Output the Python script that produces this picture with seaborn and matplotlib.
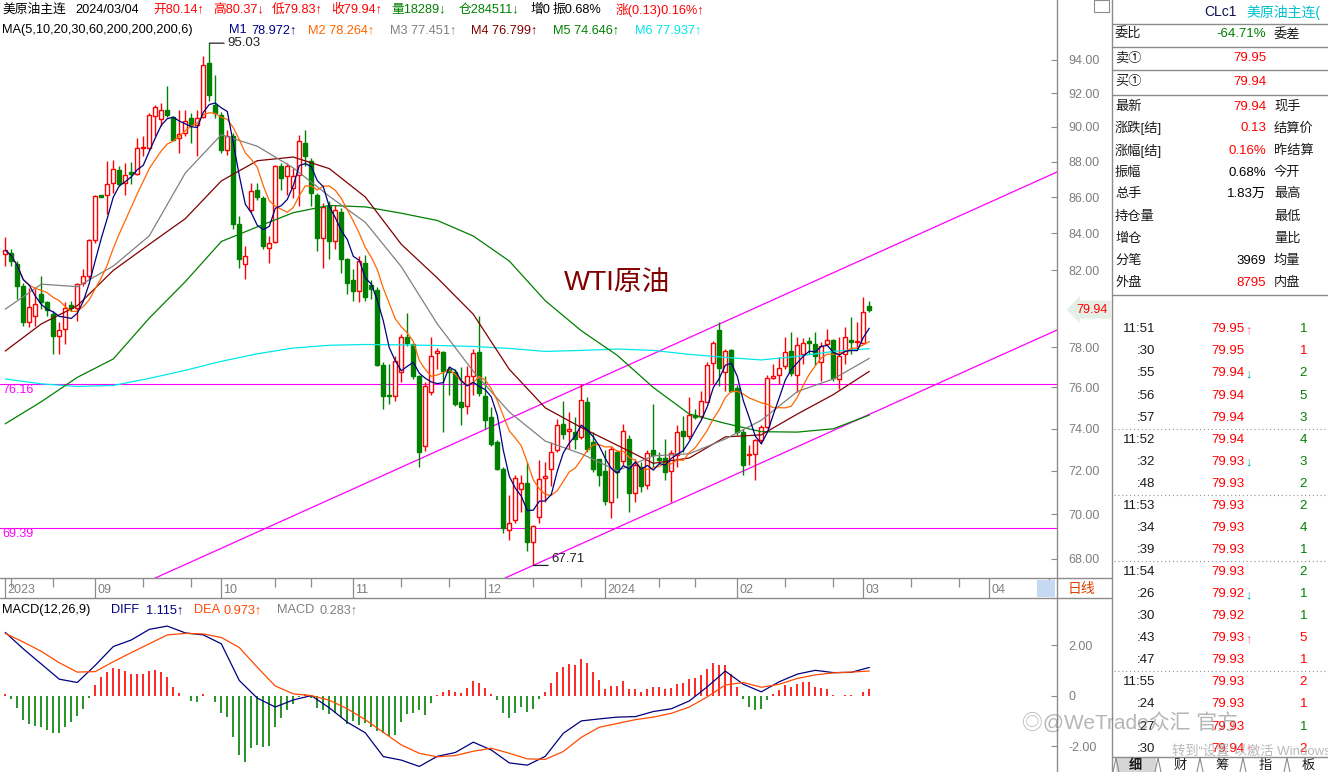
import numpy as np
import pandas as pd
import matplotlib
matplotlib.use("Agg")
import matplotlib.pyplot as plt
import seaborn as sns
from matplotlib.lines import Line2D
from matplotlib.patches import Rectangle
from matplotlib.ticker import NullLocator

# ---------------- data ----------------
opens = [82.90, 82.94, 82.33, 81.18, 79.28, 79.59, 80.74, 80.31, 79.70, 78.60,
         78.94, 80.17, 80.00, 81.35, 81.70, 83.62, 86.10, 86.12, 86.76, 87.54,
         86.79, 87.43, 87.32, 88.76, 88.78, 90.65, 90.46, 91.00, 90.61, 89.36,
         89.65, 90.52, 90.13, 90.61, 93.80, 91.30, 90.71, 88.69, 89.46, 84.49,
         82.32, 85.26, 86.42, 85.95, 83.22, 83.55, 87.73, 87.17, 86.52, 87.26,
         89.07, 88.01, 86.14, 83.76, 85.51, 83.58, 85.18, 82.59, 81.48, 80.92,
         82.40, 81.20, 80.97, 77.12, 75.65, 75.60, 76.75, 78.51, 78.17, 76.59,
         73.16, 75.80, 77.70, 77.76, 76.92, 76.78, 75.31, 75.10, 76.59, 77.76,
         75.59, 74.55, 73.35, 72.09, 69.28, 69.74, 71.17, 71.45, 68.76, 69.88,
         71.67, 72.09, 72.96, 74.23, 73.86, 73.83, 73.59, 75.31, 73.35, 72.57,
         72.00, 70.54, 72.88, 72.47, 73.51, 70.98, 72.18, 71.36, 73.00, 72.62,
         72.60, 72.00, 72.76, 73.86, 73.62, 74.67, 74.60, 75.31, 77.20, 78.89,
         76.75, 77.88, 75.95, 73.83, 72.76, 72.80, 73.43, 74.07, 76.45, 76.62,
         77.08, 77.81, 76.62, 77.67, 78.34, 78.20, 77.25, 78.20, 78.37, 76.42,
         77.67, 78.37, 78.27, 78.25, 80.14]
highs = [83.82, 83.13, 82.50, 81.35, 81.09, 81.00, 81.70, 80.39, 79.87, 79.28,
         80.31, 80.39, 81.35, 82.06, 83.67, 86.14, 86.12, 88.01, 88.11, 87.73,
         87.92, 87.96, 89.36, 89.46, 90.84, 91.30, 91.40, 92.43, 90.65, 91.00,
         91.00, 90.82, 91.00, 94.24, 95.03, 93.09, 90.90, 89.85, 89.65, 84.94,
         83.30, 86.79, 86.79, 86.04, 83.86, 87.83, 87.92, 87.92, 87.64, 89.55,
         89.85, 88.21, 86.23, 85.67, 85.75, 85.56, 85.37, 82.68, 82.06, 82.77,
         82.80, 81.50, 81.10, 77.25, 77.17, 77.59, 78.68, 79.77, 78.17, 76.62,
         76.26, 78.51, 77.95, 77.84, 77.00, 76.92, 77.00, 77.05, 77.92, 79.59,
         76.57, 75.03, 73.43, 72.17, 70.87, 71.79, 71.79, 72.41, 69.50, 72.49,
         72.41, 73.35, 74.47, 75.35, 74.80, 74.55, 76.16, 75.52, 73.83, 72.57,
         73.00, 73.19, 72.96, 74.23, 73.67, 72.57, 72.41, 72.96, 75.20, 72.90,
         73.51, 72.96, 74.15, 74.63, 75.52, 74.95, 75.85, 77.25, 78.34, 79.28,
         77.92, 77.92, 76.14, 74.00, 73.20, 73.51, 74.15, 76.62, 77.17, 77.50,
         78.51, 78.77, 78.51, 78.46, 78.51, 78.80, 78.29, 78.94, 78.43, 78.51,
         79.02, 79.54, 79.28, 80.62, 80.37]
lows = [82.23, 82.23, 80.48, 79.08, 79.03, 79.08, 79.96, 79.62, 77.67, 77.67,
        78.18, 79.88, 79.36, 81.18, 81.53, 83.49, 85.99, 85.08, 86.23, 86.60,
        86.14, 86.75, 87.26, 88.30, 88.69, 89.46, 90.07, 90.61, 89.22, 88.50,
        89.46, 89.07, 88.30, 90.52, 91.50, 90.52, 88.50, 88.40, 84.22, 82.14,
        81.53, 85.17, 85.86, 83.13, 82.37, 83.49, 86.42, 86.14, 85.95, 85.49,
        87.73, 85.49, 83.04, 82.14, 82.59, 83.13, 81.88, 80.74, 80.39, 80.31,
        80.40, 80.50, 77.09, 74.95, 75.19, 75.35, 76.26, 78.08, 76.42, 72.19,
        72.91, 75.63, 76.92, 73.82, 75.63, 75.10, 74.15, 74.68, 75.63, 75.59,
        73.99, 73.19, 72.02, 69.14, 68.83, 69.59, 70.11, 68.33, 67.71, 69.59,
        70.57, 71.31, 72.88, 73.51, 73.02, 73.02, 73.51, 72.88, 71.93, 71.31,
        70.40, 69.81, 70.72, 72.28, 70.11, 70.54, 71.03, 71.17, 72.18, 72.30,
        71.56, 70.57, 72.18, 72.88, 73.51, 74.47, 74.47, 75.27, 76.16, 76.08,
        75.85, 75.77, 73.67, 71.79, 72.26, 71.56, 73.27, 74.02, 76.42, 76.16,
        76.92, 76.59, 75.80, 77.17, 77.67, 77.12, 76.34, 78.17, 76.34, 75.92,
        77.17, 77.67, 77.92, 78.17, 79.83]
closes = [83.08, 82.50, 81.18, 79.28, 80.05, 80.22, 80.31, 79.92, 78.60, 78.89,
          80.00, 80.00, 81.27, 81.70, 83.62, 86.04, 86.00, 86.74, 87.58, 86.75,
          87.26, 87.32, 88.78, 88.84, 90.71, 91.17, 91.00, 90.71, 89.26, 89.59,
          90.36, 90.13, 90.52, 93.70, 91.90, 90.80, 88.69, 89.46, 84.49, 82.59,
          82.77, 86.32, 86.00, 83.30, 83.49, 87.73, 87.08, 87.73, 87.17, 89.16,
          88.30, 86.20, 83.76, 85.47, 83.58, 85.28, 82.63, 81.35, 80.92, 82.50,
          80.60, 81.00, 77.12, 75.59, 75.60, 77.33, 78.51, 78.22, 76.59, 72.90,
          76.06, 77.59, 77.82, 76.83, 76.78, 75.19, 75.03, 76.56, 77.72, 75.75,
          74.39, 73.27, 72.06, 69.36, 69.61, 71.67, 71.41, 68.76, 69.47, 71.64,
          71.76, 72.87, 74.18, 73.75, 73.98, 73.51, 75.40, 73.02, 72.09, 71.79,
          70.60, 73.03, 71.93, 73.86, 70.98, 72.26, 71.31, 72.84, 72.76, 72.52,
          71.93, 72.84, 73.83, 73.62, 74.67, 74.55, 75.36, 77.12, 78.25, 76.97,
          77.84, 75.85, 73.83, 72.26, 72.80, 73.43, 74.07, 76.47, 76.59, 76.96,
          77.76, 76.70, 78.10, 78.25, 78.25, 77.58, 78.08, 78.37, 76.47, 77.59,
          78.51, 78.29, 78.34, 79.81, 79.94]

# long moving averages every 6th bar (bars 0, 6, ..., 144)
MA_STEP = 6
ma20_read = [79.96, 81.27, 81.14, 82.23, 83.86, 87.35, 89.55, 88.88, 87.64, 86.04,
             84.6, 82.2, 79.2, 76.8, 74.8, 73.4, 72.8, 72.0, 72.7, 72.8,
             73.5, 74.4, 75.8, 76.42, 77.45]
ma30_read = [77.82, 79.20, 80.14, 82.0, 83.4, 84.8, 86.9, 88.05, 88.26, 87.6,
             86.0, 83.4, 81.6, 79.7, 76.9, 75.0, 74.05, 73.2, 72.35, 72.6,
             73.6, 73.7, 74.7, 75.65, 76.8]
ma60_read = [74.23, 75.3, 76.5, 77.42, 79.5, 81.4, 83.55, 84.35, 85.13, 85.53,
             85.45, 85.1, 84.7, 83.85, 82.5, 80.4, 78.85, 77.6, 76.0, 74.7,
             74.25, 73.85, 73.83, 73.99, 74.65]
ma200_read = [76.42, 76.18, 76.05, 76.1, 76.45, 76.85, 77.3, 77.68, 77.97, 78.11,
              78.15, 78.13, 78.1, 78.05, 77.95, 77.8, 77.85, 77.92, 77.85, 77.65,
              77.5, 77.37, 77.55, 77.8, 77.94]

# MACD(12,26,9): DIFF / DEA read every 3rd bar, histogram read per bar
MACD_STEP = 3
diff_read = [2.50, 1.85, 1.25, 0.65, 0.52, 1.20, 1.94, 2.20, 2.62, 2.75,
             2.48, 2.40, 2.05, 0.60, -0.10, -0.45, -0.17, 0.00, -0.48, -1.05,
             -1.47, -2.41, -2.55, -2.80, -2.40, -2.25, -1.84, -2.15, -2.66, -2.75,
             -2.40, -1.49, -1.00, -0.92, -0.85, -0.83, -0.63, -0.52, -0.21, 0.35,
             0.97, 0.45, 0.15, 0.55, 0.85, 1.00, 0.91, 0.92, 1.115]
dea_read = [2.46, 2.12, 1.75, 1.30, 0.93, 0.95, 1.34, 1.70, 2.05, 2.40,
            2.46, 2.44, 2.30, 1.90, 1.12, 0.38, 0.07, 0.00, -0.18, -0.52,
            -0.95, -1.45, -1.95, -2.28, -2.42, -2.37, -2.20, -2.08, -2.28, -2.50,
            -2.52, -2.21, -1.65, -1.25, -1.10, -0.95, -0.85, -0.70, -0.45, -0.05,
            0.42, 0.52, 0.33, 0.45, 0.68, 0.82, 0.90, 0.93, 0.973]
macd_hist = [0.05, -0.13, -0.47, -0.96, -1.13, -1.19, -1.25, -1.36, -1.46, -1.46,
             -1.26, -1.05, -0.80, -0.53, -0.08, 0.42, 0.72, 0.95, 1.11, 1.04,
             0.97, 0.87, 0.87, 0.87, 0.99, 1.01, 0.95, 0.72, 0.33, 0.09,
             0.00, -0.20, -0.24, 0.05, 0.00, -0.24, -0.67, -0.86, -1.65, -2.35,
             -2.61, -2.08, -1.95, -2.02, -1.99, -1.26, -0.87, -0.57, -0.33, -0.05,
             0.05, -0.10, -0.47, -0.57, -0.74, -0.70, -0.83, -1.12, -0.99, -1.16,
             -1.07, -1.23, -1.38, -1.49, -1.58, -1.55, -1.03, -0.72, -0.67, -0.57,
             -0.76, -0.30, 0.02, 0.16, 0.22, 0.16, 0.11, 0.30, 0.58, 0.49,
             0.30, 0.07, -0.17, -0.70, -0.87, -0.67, -0.46, -0.63, -0.53, -0.14,
             0.14, 0.50, 0.94, 1.13, 1.24, 1.21, 1.44, 1.29, 0.94, 0.62,
             0.28, 0.38, 0.38, 0.58, 0.26, 0.26, 0.14, 0.26, 0.34, 0.33,
             0.26, 0.30, 0.46, 0.50, 0.66, 0.71, 0.82, 1.07, 1.29, 1.21,
             1.21, 0.86, 0.34, -0.14, -0.46, -0.57, -0.51, -0.17, 0.05, 0.22,
             0.43, 0.34, 0.46, 0.55, 0.55, 0.33, 0.29, 0.25, 0.03, 0.00,
             0.02, 0.02, 0.00, 0.14, 0.28]

# drawn price levels and channel anchors (bar index, price)
levels = [76.16, 69.39]
upper_channel = [(25.0, 67.16), (175.3, 87.41)]
lower_channel = [(83.3, 67.16), (175.3, 78.89)]
holidays = ["2023-12-25", "2024-01-01"]

header1 = [("美原油主连", "k"), ("2024/03/04", "k"), ("开80.14↑", "up"), ("高80.37↓", "up"),
           ("低79.83↑", "up"), ("收79.94↑", "up"), ("量18289↓", "dn"), ("仓284511↓", "dn"),
           ("增0", "k"), ("振0.68%", "k"), ("涨(0.13)0.16%↑", "up")]
header2 = [("MA(5,10,20,30,60,200,200,200,6)", "k"), ("M1", "m1"), ("78.972↑", "m1"),
           ("M2 78.264↑", "m2"), ("M3 77.451↑", "m3"), ("M4 76.799↑", "m4"),
           ("M5 74.646↑", "m5"), ("M6 77.937↑", "m6")]
macd_header = [("MACD(12,26,9)", "k"), ("DIFF", "m1"), ("1.115↑", "m1"), ("DEA", "dea"),
               ("0.973↑", "dea"), ("MACD", "m3"), ("0.283↑", "m3")]

quote_left = ["委比", "卖①", "买①", "最新", "涨跌[结]", "涨幅[结]", "振幅", "总手", "持仓量", "增仓", "分笔", "外盘"]
quote_vals = ["-64.71%", "79.95", "79.94", "79.94", "0.13", "0.16%", "0.68%", "1.83万", "", "", "3969", "8795"]
quote_tone = ["dn", "up", "up", "up", "up", "up", "k", "k", "k", "k", "k", "up"]
quote_right = ["委差", "", "", "现手", "结算价", "昨结算", "今开", "最高", "最低", "量比", "均量", "内盘"]

tick_times = ["11:51", ":30", ":55", ":56", ":57", "11:52", ":32", ":48", "11:53", ":34",
              ":39", "11:54", ":26", ":30", ":43", ":47", "11:55", ":24", ":27", ":30"]
tick_prices = ["79.95", "79.95", "79.94", "79.94", "79.94", "79.94", "79.93", "79.93", "79.93", "79.93",
               "79.93", "79.93", "79.92", "79.92", "79.93", "79.93", "79.93", "79.93", "79.93", "79.94"]
tick_dir = ["↑", "", "↓", "", "", "", "↓", "", "", "", "", "", "↓", "", "↑", "", "", "", "", "↑"]
tick_vols = [1, 1, 2, 5, 3, 4, 3, 2, 2, 4, 1, 2, 1, 1, 5, 1, 2, 1, 1, 2]
tick_side = ["S", "B", "S", "S", "S", "S", "S", "S", "S", "S", "S", "S", "S", "S", "B", "B", "B", "B", "S", "B"]
tabs = ["细", "财", "筹", "指", "板"]

# ---------------- styling ----------------
sns.set_theme(style="white")
plt.rcParams["font.family"] = ["Liberation Sans", "Noto Sans CJK SC", "DejaVu Sans"]
plt.rcParams["axes.unicode_minus"] = False

C = {"k": "#000000", "up": "#ff0000", "dn": "#008000", "m1": "#000080", "m2": "#ff6600",
     "m3": "#808080", "m4": "#800000", "m5": "#008000", "m6": "#00e8e8", "dea": "#ff4a00"}
GRID = "#8c8c8c"
MAG = "#ff00ff"

W, H = 1328, 772
fig = plt.figure(figsize=(W / 100, H / 100), dpi=100)
fig.patch.set_facecolor("white")


def fx(x):
    return x / W


def fy(y):
    return 1 - y / H


def hline(y, x0, x1, **kw):
    fig.add_artist(Line2D([fx(x0), fx(x1)], [fy(y), fy(y)], transform=fig.transFigure, **kw))


def vline(x, y0, y1, **kw):
    fig.add_artist(Line2D([fx(x), fx(x)], [fy(y0), fy(y1)], transform=fig.transFigure, **kw))


o, h, l, c = map(np.array, (opens, highs, lows, closes))
n = len(c)
idx = np.arange(n)
XL = (-0.88, 175.28)

ax = fig.add_axes([0, fy(578), fx(1057), 578 / H])
axd = fig.add_axes([0, fy(598), fx(1057), 20 / H])
axm = fig.add_axes([0, 0, fx(1057), fy(598)])
for a in (ax, axd, axm):
    a.set_facecolor("white")
    for s in a.spines.values():
        s.set_visible(False)
    a.set_xlim(*XL)

# ---------------- price panel ----------------
ax.set_yscale("log")
ax.set_ylim(67.16, 97.73)

up = c >= o
ax.vlines(idx[up], l[up], h[up], color=C["up"], lw=1.0, zorder=2)
ax.vlines(idx[~up], l[~up], h[~up], color=C["dn"], lw=1.0, zorder=2)
ax.bar(idx[up], c[up] - o[up], bottom=o[up], width=0.7, facecolor="white",
       edgecolor=C["up"], linewidth=1.0, zorder=3)
ax.bar(idx[~up], o[~up] - c[~up], bottom=c[~up], width=0.7, facecolor=C["dn"],
       edgecolor=C["dn"], linewidth=1.0, zorder=3)

ma_x = np.arange(0, n, MA_STEP)
for vals, key in [(ma200_read, "m6"), (ma60_read, "m5"), (ma30_read, "m4"), (ma20_read, "m3")]:
    sns.lineplot(x=ma_x, y=vals, ax=ax, color=C[key], lw=0.9, zorder=4)
cs = pd.Series(c)
sns.lineplot(x=idx, y=cs.rolling(10, min_periods=1).mean().values, ax=ax, color=C["m2"], lw=0.9, zorder=5)
sns.lineplot(x=idx, y=cs.rolling(5, min_periods=1).mean().values, ax=ax, color=C["m1"], lw=0.9, zorder=6)

for lv in levels:
    ax.axhline(lv, color=MAG, lw=0.8, zorder=1)
    ax.text(0.002, lv, f"{lv:.2f}", transform=ax.get_yaxis_transform(), color=MAG,
            fontsize=9, va="top", ha="left")
ax.axline(upper_channel[0], upper_channel[1], color=MAG, lw=0.9, zorder=1)
ax.axline(lower_channel[0], lower_channel[1], color=MAG, lw=0.9, zorder=1)

hi_i = int(np.argmax(h))
lo_i = int(np.argmin(l))
ax.annotate(f"{h[hi_i]:.2f}", xy=(hi_i, h[hi_i]), xytext=(13, 0), textcoords="offset points",
            va="center", ha="left", fontsize=9.5, color="#222222",
            arrowprops=dict(arrowstyle="-", color="#222222", lw=0.9, relpos=(0, 0.5), shrinkA=0, shrinkB=0))
ax.annotate(f"{l[lo_i]:.2f}", xy=(lo_i, l[lo_i]), xytext=(13, 0), textcoords="offset points",
            va="bottom", ha="left", fontsize=9.5, color="#222222",
            arrowprops=dict(arrowstyle="-", color="#222222", lw=0.9, relpos=(0, 0), shrinkA=0, shrinkB=0))

ax.text(0.533, 0.51, "WTI原油", transform=ax.transAxes, fontsize=20, color="#800000",
        va="center", ha="left")

yt = [v for v in range(68, 96, 2) if v != 80]
ax.set_yticks(yt)
ax.set_yticklabels([f"{v:.2f}" for v in yt])
ax.yaxis.set_minor_locator(NullLocator())
ax.yaxis.tick_right()
ax.tick_params(axis="y", which="major", right=True, direction="in", length=4, width=0.8,
               color=GRID, labelcolor="#7f7f7f", labelsize=9, pad=8)
ax.tick_params(axis="x", bottom=False, labelbottom=False)
ax.set_xlabel("")
ax.set_ylabel("")

ax.annotate(f"{c[-1]:.2f}", xy=(1, c[-1]), xycoords=("axes fraction", "data"),
            xytext=(14, 0), textcoords="offset points", ha="left", va="center",
            fontsize=9, color="#ff0000", annotation_clip=False,
            bbox=dict(boxstyle="larrow,pad=0.25", fc="#e6efe6", ec="none"))

# ---------------- date strip ----------------
dates = pd.bdate_range("2023-08-11", "2024-04-30")
dates = dates[~dates.isin(pd.to_datetime(holidays))]
axd.set_ylim(0, 1)
axd.set_xticks([])
axd.set_yticks([])
for k in range(len(dates)):
    if k > XL[1]:
        break
    d = dates[k]
    if k == 0 or d.month != dates[k - 1].month:
        lab = str(d.year) if (k == 0 or d.month == 1) else f"{d.month:02d}"
        axd.vlines(k, 0, 1, color=GRID, lw=0.9)
        axd.text(k + 0.3, 0.42, lab, color="#7f7f7f", fontsize=9, va="center", ha="left")
    elif (d.day >= 13 and dates[k - 1].day < 13) or (d.day >= 23 and dates[k - 1].day < 23):
        axd.vlines(k, 0.55, 1, color=GRID, lw=0.9)
fig.add_artist(Rectangle((fx(1037), fy(597)), fx(18), 17 / H, transform=fig.transFigure,
                         facecolor="#c5daf2", edgecolor="none"))
fig.text(fx(1068), fy(589), "日线", color="#e04000", fontsize=10, va="center", ha="left")

# ---------------- MACD panel ----------------
axm.set_ylim(-3.02, 3.86)
hist = np.array(macd_hist)
axm.vlines(idx, 0, hist, colors=np.where(hist >= 0, C["up"], C["dn"]), lw=1.2)
macd_x = np.arange(0, n, MACD_STEP)
sns.lineplot(x=macd_x, y=diff_read, ax=axm, color=C["m1"], lw=0.9)
sns.lineplot(x=macd_x, y=dea_read, ax=axm, color=C["dea"], lw=0.9)
axm.set_yticks([2, 0, -2])
axm.set_yticklabels(["2.00", "0", "-2.00"])
axm.yaxis.tick_right()
axm.tick_params(axis="y", right=True, direction="in", length=4, width=0.8, color=GRID,
                labelcolor="#7f7f7f", labelsize=9, pad=8)
axm.tick_params(axis="x", bottom=False, labelbottom=False)
axm.set_xlabel("")
axm.set_ylabel("")

# ---------------- headers ----------------
for (s, tone), x in zip(header1, [2, 75, 153, 213, 272, 331, 391, 459, 530, 553, 616]):
    fig.text(fx(x), fy(10), s, color=C[tone], fontsize=9.2, va="center", ha="left")
for (s, tone), x in zip(header2, [2, 229, 251, 308, 390, 471, 553, 635]):
    fig.text(fx(x), fy(30), s, color=C[tone], fontsize=9.2, va="center", ha="left")
for (s, tone), x in zip(macd_header, [2, 111, 146, 194, 223, 277, 319]):
    fig.text(fx(x), fy(610), s, color=C[tone], fontsize=9.2, va="center", ha="left")

# ---------------- frame lines ----------------
vline(1057, 0, 772, color=GRID, lw=1.0)
vline(1112, 0, 772, color=GRID, lw=1.0)
hline(578, 0, 1112, color=GRID, lw=1.0)
hline(598, 0, 1112, color=GRID, lw=1.0)
fig.add_artist(Rectangle((fx(1094), fy(12)), fx(15), 12 / H, transform=fig.transFigure,
                         facecolor="white", edgecolor=GRID, lw=0.8))

# ---------------- right quote panel ----------------
fig.text(fx(1204), fy(12), "CLc1", color="#101050", fontsize=10, va="center", ha="left")
fig.text(fx(1246), fy(12), "美原油主连(", color="#00c0d0", fontsize=10, va="center", ha="left")
for yy in [23.5, 47.3, 70.3, 95, 295]:
    hline(yy, 1112, 1328, color=GRID, lw=1.0)
quote_y = [34.3, 58.3, 81.7, 106.7, 128.3, 150.7, 172.7, 194, 216.7, 238.7, 260.7, 282.7]
for yy, a, v, t, b in zip(quote_y, quote_left, quote_vals, quote_tone, quote_right):
    fig.text(fx(1115), fy(yy), a, color="k", fontsize=9.5, va="center", ha="left")
    if v:
        fig.text(fx(1266), fy(yy), v, color=C[t], fontsize=9.5, va="center", ha="right")
    if b:
        fig.text(fx(1274), fy(yy), b, color="k", fontsize=9.5, va="center", ha="left")

for k, (tm, pr, dr, vo, sd) in enumerate(zip(tick_times, tick_prices, tick_dir, tick_vols, tick_side)):
    yy = 329.3 + 22.07 * k
    if k > 0 and not tm.startswith(":"):
        hline(yy - 11, 1114, 1326, color="#909090", lw=0.8, linestyle=(0, (1, 2.5)))
    fig.text(fx(1155), fy(yy), tm, color="k", fontsize=9.5, va="center", ha="right")
    fig.text(fx(1244), fy(yy), pr, color="#ff0000", fontsize=9.5, va="center", ha="right")
    if dr:
        fig.text(fx(1245), fy(yy + 1), dr, color="#ff5a7a" if dr == "↑" else "#00a0a0",
                 fontsize=9, va="center", ha="left")
    fig.text(fx(1307), fy(yy), str(vo), color=C["up"] if sd == "B" else C["dn"],
             fontsize=9.5, va="center", ha="right")

# bottom tabs
hline(757, 1112, 1328, color=GRID, lw=1.0)
fig.add_artist(Rectangle((fx(1116), 0), fx(40), 14 / H, transform=fig.transFigure,
                         facecolor="#d6d6d6", edgecolor="none"))
for tx, tb in zip([1135, 1180, 1222, 1265, 1308], tabs):
    fig.text(fx(tx), fy(766), tb, color="k", fontsize=9.5, va="center", ha="center",
             fontweight="bold" if tb == tabs[0] else "normal")
for sx in [1116, 1158, 1200, 1243, 1287]:
    fig.add_artist(Line2D([fx(sx - 3), fx(sx)], [fy(772), fy(758)], transform=fig.transFigure, color=GRID, lw=0.8))
    fig.add_artist(Line2D([fx(sx), fx(sx + 3)], [fy(758), fy(772)], transform=fig.transFigure, color=GRID, lw=0.8))

# watermark overlays seen in the screenshot
fig.text(fx(1022), fy(722), "◎@WeTrade众汇 官方", color="#7a7a7a", alpha=0.55, fontsize=15,
         va="center", ha="left")
fig.text(fx(1172), fy(751), "转到“设置”以激活 Windows", color="#a8a8a8", alpha=0.8, fontsize=9.5,
         va="center", ha="left")

fig.savefig("out.png", dpi=100, facecolor="white")
